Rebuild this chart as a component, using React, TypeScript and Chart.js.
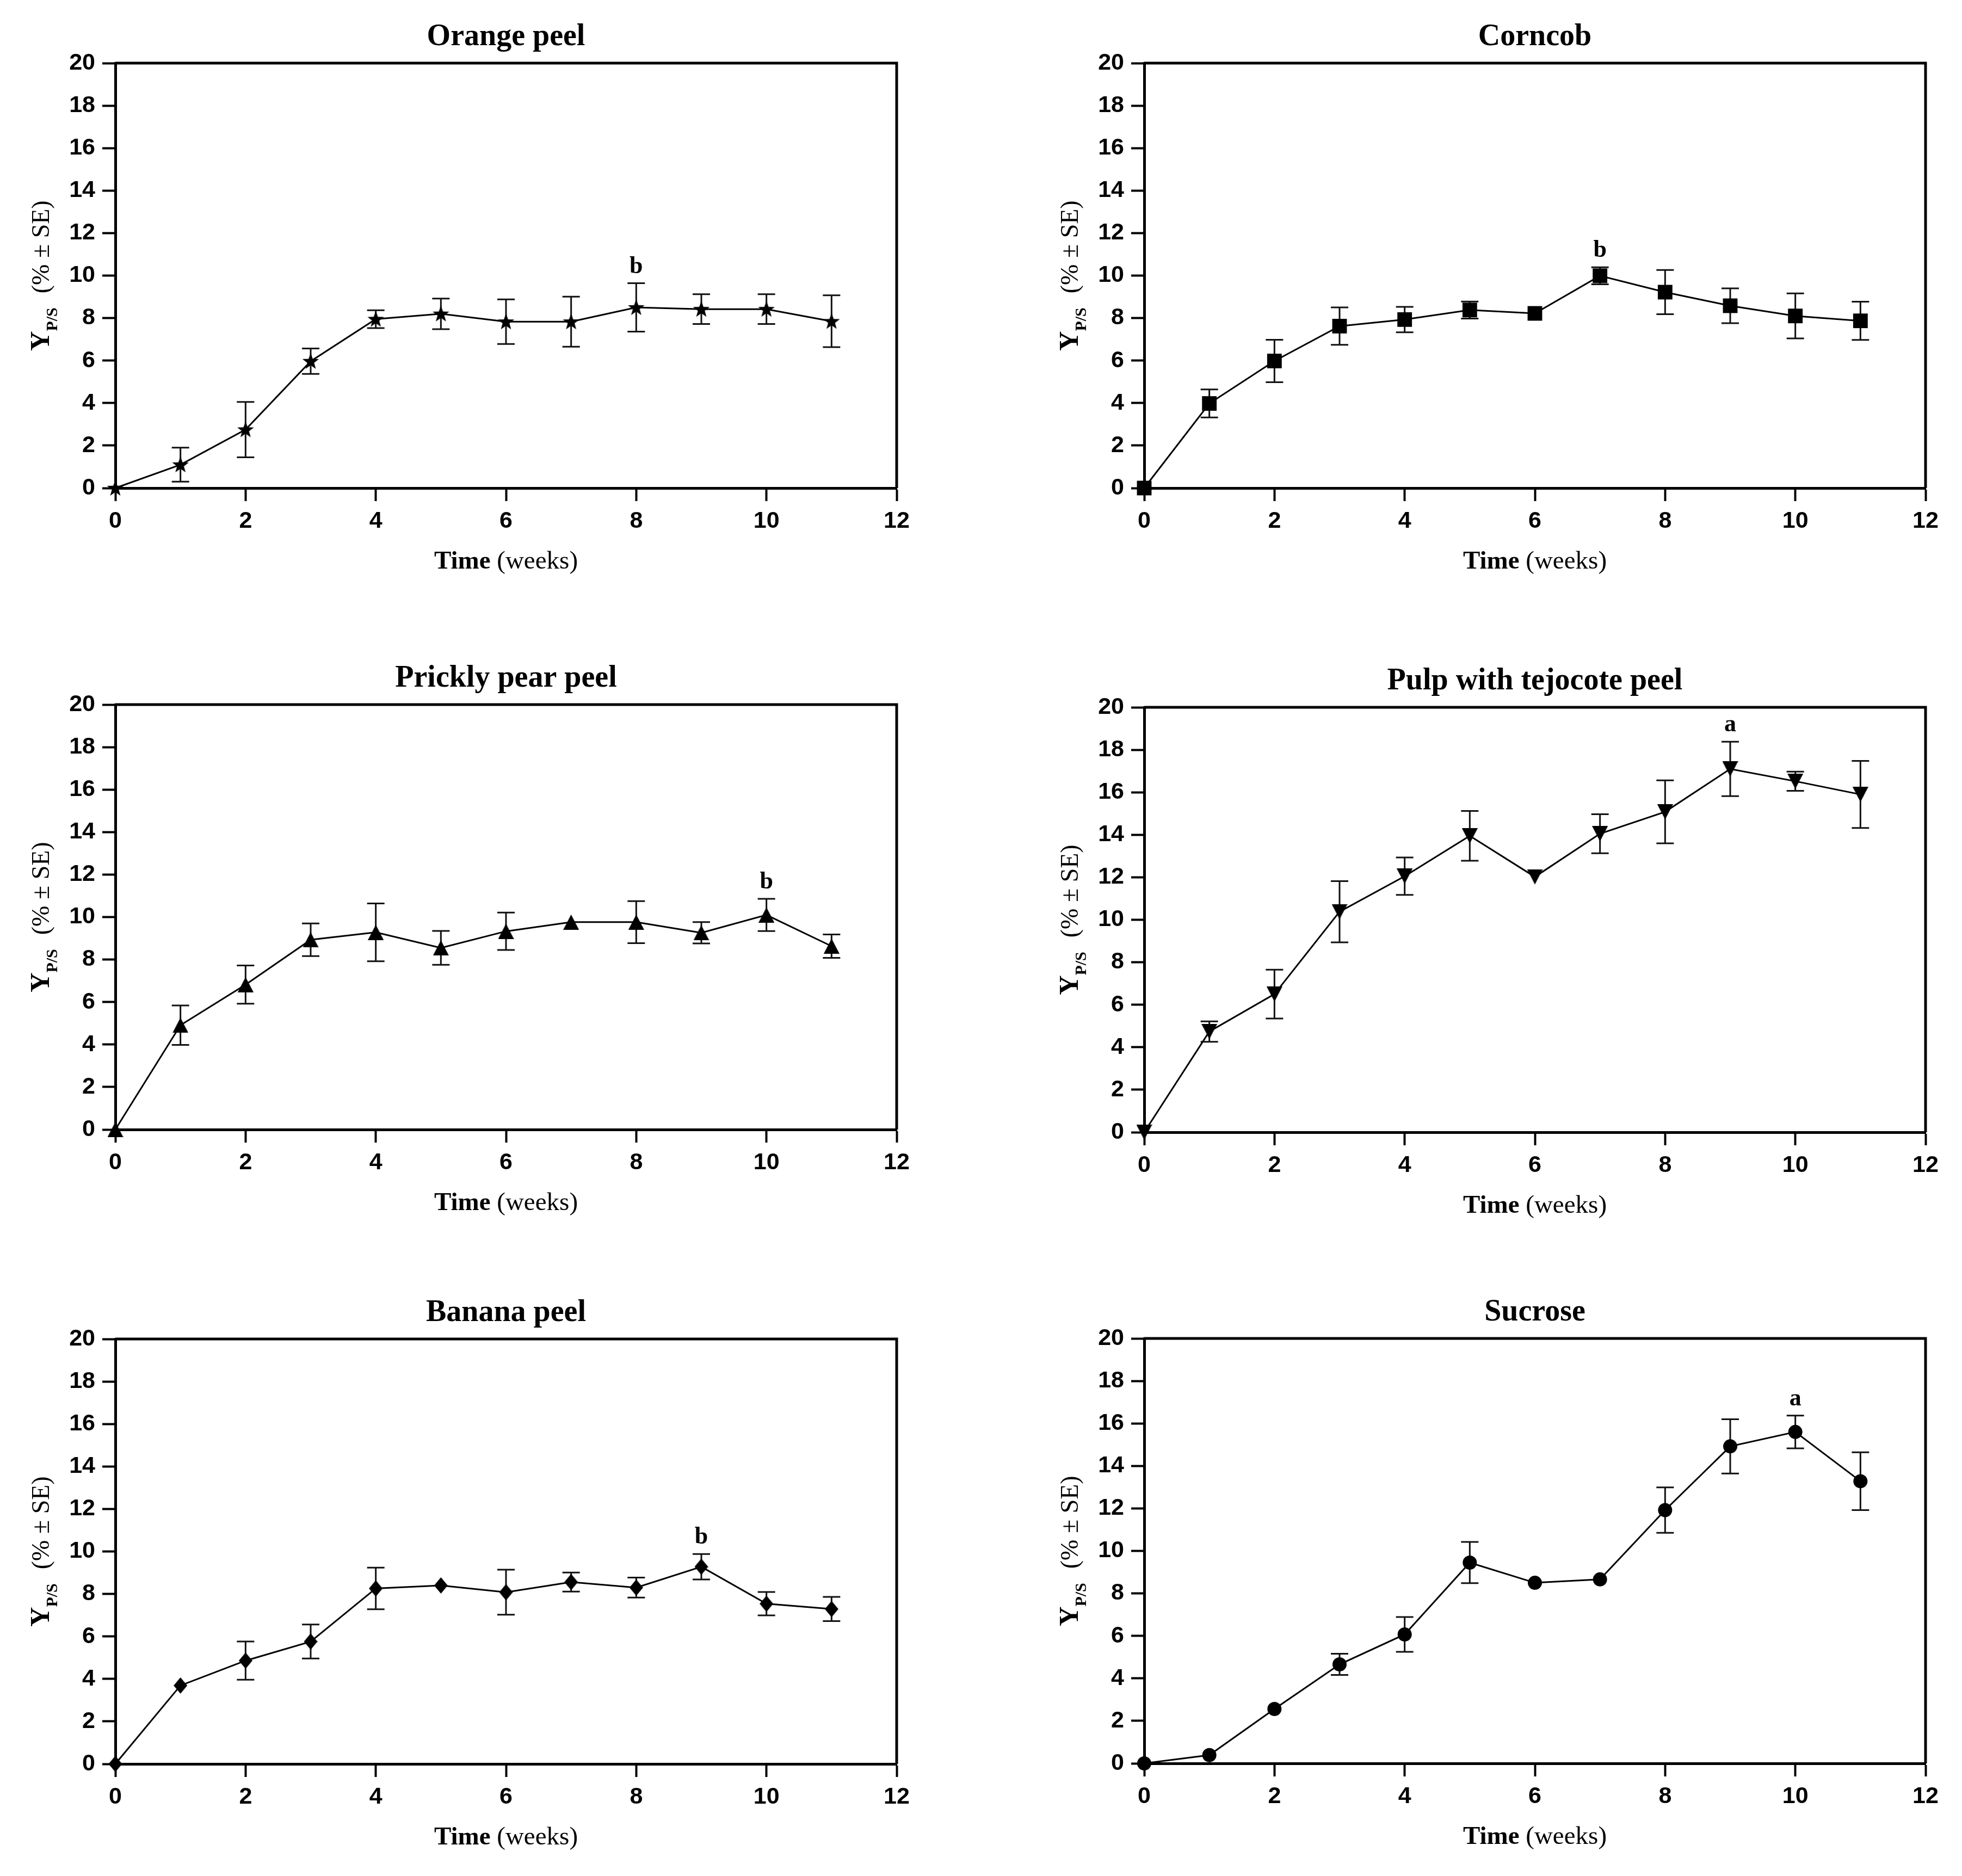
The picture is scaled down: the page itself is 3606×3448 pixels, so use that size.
import { useEffect, useRef } from "react";
import { Chart, registerables } from "chart.js";

Chart.register(...registerables);

// Sampling times (weeks)
const weeks = [0, 1, 2, 3, 4, 5, 6, 7, 8, 9, 10, 11];

// Product yield Y(P/S) in % with standard errors, one pair of arrays per substrate
const orangeMean = [0, 1.1, 2.75, 5.97, 7.95, 8.2, 7.83, 7.83, 8.5, 8.42, 8.42, 7.85];
const orangeSE = [0, 0.8, 1.3, 0.6, 0.42, 0.72, 1.05, 1.18, 1.14, 0.7, 0.7, 1.22];

const corncobMean = [0, 3.98, 5.98, 7.62, 7.93, 8.38, 8.22, 9.99, 9.22, 8.58, 8.1, 7.87];
const corncobSE = [0, 0.66, 1.0, 0.88, 0.6, 0.4, 0.15, 0.4, 1.04, 0.82, 1.06, 0.9];

const pricklyMean = [0, 4.91, 6.82, 8.93, 9.28, 8.55, 9.33, 9.76, 9.76, 9.26, 10.1, 8.63];
const pricklySE = [0, 0.93, 0.9, 0.77, 1.36, 0.8, 0.88, 0.12, 0.99, 0.5, 0.76, 0.55];

const pulpMean = [0, 4.74, 6.5, 10.38, 12.05, 13.95, 12.02, 14.05, 15.08, 17.1, 16.52, 15.9];
const pulpSE = [0, 0.48, 1.15, 1.44, 0.88, 1.17, 0.12, 0.92, 1.48, 1.28, 0.45, 1.58];

const bananaMean = [0, 3.69, 4.86, 5.76, 8.26, 8.4, 8.08, 8.56, 8.3, 9.28, 7.54, 7.29];
const bananaSE = [0, 0.1, 0.9, 0.8, 0.98, 0.15, 1.06, 0.45, 0.47, 0.6, 0.55, 0.57];

const sucroseMean = [0, 0.39, 2.56, 4.66, 6.07, 9.45, 8.5, 8.66, 11.92, 14.92, 15.6, 13.28];
const sucroseSE = [0, 0.15, 0.1, 0.5, 0.82, 0.97, 0.1, 0.1, 1.07, 1.28, 0.77, 1.36];

// Panel titles and significance letters (letter, week it sits above)
const titles = ["Orange peel", "Corncob", "Prickly pear peel", "Pulp with tejocote peel", "Banana peel", "Sucrose"];
const groupLetters = ["b", "b", "b", "a", "b", "a"];
const letterWeeks = [8, 7, 10, 9, 9, 10];

// Axis ranges and tick steps
const xRange = [0, 12];
const xStep = 2;
const yRange = [0, 20];
const yStep = 2;

// ---- layout ----
const TOP_BOX = 116; // space above plot area (title)
const Y_BOX = 212; // space left of plot area (y axis)
const X_BOX = 200; // space below plot area (x axis)
const RIGHT_PAD = 50;
const PLOT_W = 1436;
const PLOT_H = 781;
const TITLE_SIZE = 56;
const TITLE_PAD_TOP = 35;

type MarkerKind = "star" | "square" | "triUp" | "triDown" | "diamond" | "circle";

const panelSlots: { left: number; top: number; marker: MarkerKind }[] = [
  { left: 212, top: 116, marker: "star" },
  { left: 2103, top: 116, marker: "square" },
  { left: 212, top: 1295, marker: "triUp" },
  { left: 2103, top: 1300, marker: "triDown" },
  { left: 212, top: 2461, marker: "diamond" },
  { left: 2103, top: 2460, marker: "circle" },
];

const seriesMeans = [orangeMean, corncobMean, pricklyMean, pulpMean, bananaMean, sucroseMean];
const seriesSE = [orangeSE, corncobSE, pricklySE, pulpSE, bananaSE, sucroseSE];

const SERIF = '"Liberation Serif", "Times New Roman", serif';
const SANS = '"Liberation Sans", Arial, sans-serif';

function makeMarker(kind: MarkerKind): HTMLCanvasElement | string {
  if (kind === "circle") return "circle";
  if (kind === "square") return "rect";
  const c = document.createElement("canvas");
  let ctx = c.getContext("2d")!;
  if (kind === "star") {
    c.width = 32;
    c.height = 32;
    ctx = c.getContext("2d")!;
    ctx.fillStyle = "#000";
    ctx.beginPath();
    const outer = 16;
    const inner = 6.6;
    for (let i = 0; i < 10; i++) {
      const r = i % 2 === 0 ? outer : inner;
      const a = -Math.PI / 2 + (i * Math.PI) / 5;
      const px = 16 + r * Math.cos(a);
      const py = 17 + r * Math.sin(a);
      if (i === 0) ctx.moveTo(px, py);
      else ctx.lineTo(px, py);
    }
  } else if (kind === "triUp") {
    c.width = 29;
    c.height = 28;
    ctx = c.getContext("2d")!;
    ctx.fillStyle = "#000";
    ctx.beginPath();
    ctx.moveTo(14.5, 0);
    ctx.lineTo(29, 28);
    ctx.lineTo(0, 28);
  } else if (kind === "triDown") {
    c.width = 29;
    c.height = 28;
    ctx = c.getContext("2d")!;
    ctx.fillStyle = "#000";
    ctx.beginPath();
    ctx.moveTo(0, 0);
    ctx.lineTo(29, 0);
    ctx.lineTo(14.5, 28);
  } else {
    c.width = 25;
    c.height = 30;
    ctx = c.getContext("2d")!;
    ctx.fillStyle = "#000";
    ctx.beginPath();
    ctx.moveTo(12.5, 0);
    ctx.lineTo(25, 15);
    ctx.lineTo(12.5, 30);
    ctx.lineTo(0, 15);
  }
  ctx.closePath();
  ctx.fill();
  return c;
}

// Error bars, frame, axis titles and group letters
const decorPlugin = {
  id: "panelDecor",
  beforeDatasetsDraw(chart: any) {
    const ds = chart.data.datasets[0];
    const errs: number[] = ds.errors;
    const ys = chart.scales.y;
    const meta = chart.getDatasetMeta(0);
    const ctx = chart.ctx;
    ctx.save();
    ctx.strokeStyle = "#111";
    ctx.lineWidth = 3;
    meta.data.forEach((pt: any, i: number) => {
      const m = ds.data[i].y;
      const e = errs[i];
      if (!e) return;
      const yt = ys.getPixelForValue(m + e);
      const yb = ys.getPixelForValue(m - e);
      if (yb - yt < 26) return;
      const x = pt.x;
      ctx.beginPath();
      ctx.moveTo(x, yt);
      ctx.lineTo(x, yb);
      ctx.moveTo(x - 16, yt);
      ctx.lineTo(x + 16, yt);
      ctx.moveTo(x - 16, yb);
      ctx.lineTo(x + 16, yb);
      ctx.stroke();
    });
    ctx.restore();
  },
  afterDraw(chart: any) {
    const ctx = chart.ctx;
    const a = chart.chartArea;
    const opts = chart.options.plugins.panelDecor;
    ctx.save();
    // top and right edges of the frame
    ctx.strokeStyle = "#000";
    ctx.lineWidth = 5;
    ctx.beginPath();
    ctx.moveTo(a.left, a.top);
    ctx.lineTo(a.right, a.top);
    ctx.lineTo(a.right, a.bottom);
    ctx.stroke();

    ctx.fillStyle = "#000";
    ctx.textAlign = "left";
    ctx.textBaseline = "alphabetic";

    // y axis title: Y_P/S (% ± SE)
    const fY = `bold 50px ${SERIF}`;
    const fSub = `bold 30px ${SERIF}`;
    const fRest = `46px ${SERIF}`;
    ctx.font = fY;
    const wY = ctx.measureText("Y").width;
    ctx.font = fSub;
    const wS = ctx.measureText("P/S").width;
    ctx.font = fRest;
    const rest = "(% ± SE)";
    const wR = ctx.measureText(rest).width;
    const gap = 26;
    const total = wY + wS + gap + wR;
    ctx.save();
    ctx.translate(a.left - 122, (a.top + a.bottom) / 2);
    ctx.rotate(-Math.PI / 2);
    let x = -total / 2;
    ctx.font = fY;
    ctx.fillText("Y", x, 0);
    x += wY;
    ctx.font = fSub;
    ctx.fillText("P/S", x, 15);
    x += wS + gap;
    ctx.font = fRest;
    ctx.fillText(rest, x, 0);
    ctx.restore();

    // x axis title: Time (weeks)
    const fB = `bold 47px ${SERIF}`;
    const fR = `47px ${SERIF}`;
    ctx.font = fB;
    const wT = ctx.measureText("Time").width;
    ctx.font = fR;
    const wW = ctx.measureText(" (weeks)").width;
    let tx = (a.left + a.right) / 2 - (wT + wW) / 2;
    const ty = a.bottom + 148;
    ctx.font = fB;
    ctx.fillText("Time", tx, ty);
    tx += wT;
    ctx.font = fR;
    ctx.fillText(" (weeks)", tx, ty);

    // significance letter
    const ds = chart.data.datasets[0];
    const idx = ds.data.findIndex((d: any) => d.x === opts.week);
    if (idx >= 0) {
      const top = ds.data[idx].y + ds.errors[idx];
      const lx = chart.scales.x.getPixelForValue(opts.week);
      const ly = chart.scales.y.getPixelForValue(top) - 19;
      ctx.font = `bold 44px ${SERIF}`;
      ctx.textAlign = "center";
      ctx.fillText(opts.letter, lx, ly);
    }
    ctx.restore();
  },
};

function Panel({ index }: { index: number }) {
  const ref = useRef<HTMLCanvasElement>(null);
  const slot = panelSlots[index];
  const cw = Y_BOX + PLOT_W + RIGHT_PAD;
  const ch = TOP_BOX + PLOT_H + X_BOX;

  useEffect(() => {
    if (!ref.current) return;
    const mean = seriesMeans[index];
    const se = seriesSE[index];
    const marker = makeMarker(slot.marker);
    const radius = slot.marker === "circle" ? 13 : slot.marker === "square" ? 19 : 15;
    const tickFont = { family: SANS, weight: "bold" as const, size: 43 };
    const grid = {
      drawOnChartArea: false,
      drawTicks: true,
      tickLength: 24,
      tickWidth: 4,
      tickColor: "#000",
    };
    const border = { display: true, color: "#000", width: 5 };
    const chart = new Chart(ref.current, {
      type: "line",
      data: {
        datasets: [
          {
            data: weeks.map((w, i) => ({ x: w, y: mean[i] })),
            errors: se,
            borderColor: "#000",
            borderWidth: 3,
            backgroundColor: "#000",
            pointStyle: marker as any,
            pointRadius: radius,
            pointHoverRadius: radius,
            pointBackgroundColor: "#000",
            pointBorderColor: "#000",
            pointBorderWidth: 0,
            tension: 0,
            clip: false,
          } as any,
        ],
      },
      options: {
        responsive: false,
        animation: false,
        devicePixelRatio: 1,
        events: [],
        layout: { padding: { left: 0, right: RIGHT_PAD, top: 0, bottom: 0 } },
        scales: {
          x: {
            type: "linear",
            min: xRange[0],
            max: xRange[1],
            afterFit: (s: any) => {
              s.height = X_BOX;
            },
            ticks: { stepSize: xStep, padding: 11, color: "#000", font: tickFont, maxRotation: 0, autoSkip: false },
            grid,
            border,
          },
          y: {
            type: "linear",
            min: yRange[0],
            max: yRange[1],
            afterFit: (s: any) => {
              s.width = Y_BOX;
            },
            ticks: { stepSize: yStep, padding: 13, color: "#000", font: tickFont, autoSkip: false },
            grid,
            border,
          },
        },
        plugins: {
          legend: { display: false },
          tooltip: { enabled: false },
          title: {
            display: true,
            fullSize: false,
            text: titles[index],
            color: "#000",
            font: { family: SERIF, weight: "bold", size: TITLE_SIZE, lineHeight: 1.2 },
            padding: { top: TITLE_PAD_TOP, bottom: TOP_BOX - TITLE_PAD_TOP - TITLE_SIZE * 1.2 },
          },
          panelDecor: { letter: groupLetters[index], week: letterWeeks[index] },
        } as any,
      },
      plugins: [decorPlugin],
    });
    return () => chart.destroy();
  }, [index]);

  return (
    <canvas
      ref={ref}
      width={cw}
      height={ch}
      style={{
        position: "absolute",
        left: slot.left - Y_BOX,
        top: slot.top - TOP_BOX,
        width: cw,
        height: ch,
      }}
    />
  );
}

export default function App() {
  return (
    <div
      style={{
        position: "absolute",
        left: 0,
        top: 0,
        width: 3606,
        height: 3448,
        background: "#fff",
        overflow: "hidden",
      }}
    >
      {titles.map((_, i) => (
        <Panel key={i} index={i} />
      ))}
    </div>
  );
}
